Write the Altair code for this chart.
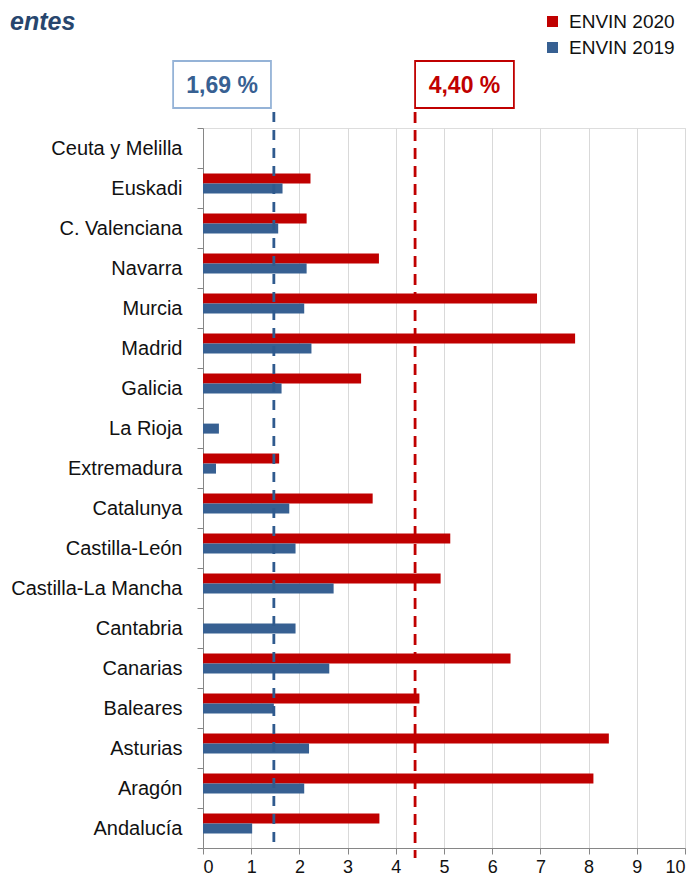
import altair as alt
import pandas as pd

regions = ["Ceuta y Melilla", "Euskadi", "C. Valenciana", "Navarra", "Murcia", "Madrid",
           "Galicia", "La Rioja", "Extremadura", "Catalunya", "Castilla-León",
           "Castilla-La Mancha", "Cantabria", "Canarias", "Baleares", "Asturias",
           "Aragón", "Andalucía"]
envin_2020 = [None, 2.23, 2.15, 3.65, 6.93, 7.72, 3.28, None, 1.58, 3.52, 5.13,
              4.93, None, 6.38, 4.49, 8.42, 8.10, 3.66]
envin_2019 = [None, 1.65, 1.56, 2.15, 2.10, 2.25, 1.63, 0.33, 0.27, 1.79, 1.92,
              2.71, 1.92, 2.62, 1.47, 2.20, 2.10, 1.02]
series = ["ENVIN 2020", "ENVIN 2019"]
colors = ["#C00000", "#376092"]

ref_pos = [1.47, 4.40]
ref_text = ["1,69 %", "4,40 %"]

rows = []
for name, values in zip(series, [envin_2020, envin_2019]):
    for r, v in zip(regions, values):
        if v is not None:
            rows.append({"region": r, "serie": name, "value": v})
df = pd.DataFrame(rows)

FONT = "Liberation Sans, Arial"

bars = alt.Chart(df).mark_bar(strokeWidth=0).encode(
    x=alt.X("value:Q", scale=alt.Scale(domain=[0, 10], nice=False),
            axis=alt.Axis(values=list(range(0, 11)), title=None, grid=True,
                          gridColor="#D9D9D9", gridWidth=1,
                          domainColor="#868686", tickColor="#868686", tickSize=6,
                          labelFont=FONT, labelFontSize=18, labelColor="#111111",
                          labelPadding=4)),
    y=alt.Y("region:N", sort=regions,
            scale=alt.Scale(domain=regions, paddingInner=0, paddingOuter=0),
            axis=alt.Axis(title=None, tickBand="extent", domainColor="#868686",
                          tickColor="#868686", tickSize=6, labelFont=FONT,
                          labelFontSize=20, labelColor="#111111", labelPadding=15,
                          labelLimit=0)),
    yOffset=alt.YOffset("serie:N", sort=series,
                        scale=alt.Scale(domain=series, paddingInner=0, paddingOuter=1, align=0.28)),
    color=alt.Color("serie:N", scale=alt.Scale(domain=series, range=colors),
                    legend=alt.Legend(title=None, orient="none", legendX=340, legendY=-116,
                                      symbolType="square", symbolSize=121, symbolStrokeWidth=0,
                                      labelFont=FONT, labelFontSize=19, labelColor="#111111",
                                      labelOffset=7, rowPadding=6, padding=0)),
)

refs = pd.DataFrame({
    "pos": ref_pos,
    "text": ref_text,
    "serie": series[::-1],
    "bx": [ref_pos[0] - 0.06 - 2.03, ref_pos[1]],
    "bx2": [ref_pos[0] - 0.06, ref_pos[1] + 2.05],
    "mid": [ref_pos[0] - 0.06 - 1.015, ref_pos[1] + 1.025],
})

rule_blue = alt.Chart(refs.iloc[[0]]).mark_rule(
    color="#2F5A8E", strokeWidth=2.8, strokeDash=[10, 8]).encode(
    x="pos:Q", y=alt.value(-16), y2=alt.value(720))
rule_red = alt.Chart(refs.iloc[[1]]).mark_rule(
    color="#C00000", strokeWidth=2.8, strokeDash=[11, 7]).encode(
    x="pos:Q", y=alt.value(-16), y2=alt.value(730))

boxes = alt.Chart(refs).mark_rect(fill="white", strokeWidth=1.8).encode(
    x="bx:Q", x2="bx2:Q", y=alt.value(-67), y2=alt.value(-20),
    stroke=alt.Stroke("serie:N", scale=alt.Scale(domain=series[::-1], range=["#95B3D7", "#C00000"]),
                      legend=None))
box_text = alt.Chart(refs).mark_text(font=FONT, fontSize=23, fontWeight="bold",
                                     baseline="middle", align="center").encode(
    x="mid:Q", y=alt.value(-42), text="text:N",
    color=alt.Color("serie:N", scale=alt.Scale(domain=series, range=colors), legend=None))

title = alt.Chart(pd.DataFrame({"t": ["entes"]})).mark_text(
    font=FONT, fontSize=25, fontWeight="bold", fontStyle="italic",
    color="#27466E", align="left", baseline="middle").encode(
    x=alt.value(-193), y=alt.value(-106), text="t:N")

chart = alt.layer(bars, rule_blue, rule_red, boxes, box_text, title).resolve_scale(
    color="independent", stroke="independent"
).properties(
    width=482, height=720,
    autosize=alt.AutoSizeParams(type="none"),
    padding={"left": 195, "top": 120, "right": 1, "bottom": 27},
).configure_view(stroke=None).configure(background="white")

chart.save("out.html", embed_options={"renderer": "svg", "actions": False})
